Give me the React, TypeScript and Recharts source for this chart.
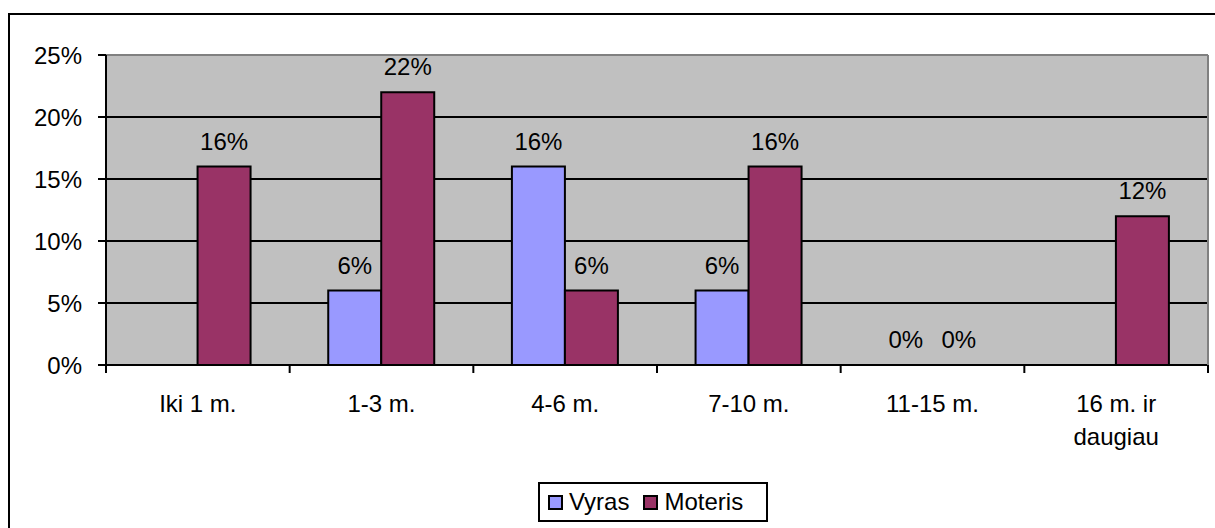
import React from 'react';
import {
  BarChart,
  Bar,
  XAxis,
  YAxis,
  CartesianGrid,
  LabelList,
  Legend,
  ReferenceLine,
} from 'recharts';

const categories = ['Iki 1 m.', '1-3 m.', '4-6 m.', '7-10 m.', '11-15 m.', '16 m. ir\ndaugiau'];
const vyras: (number | null)[] = [null, 6, 16, 6, 0, null];
const moteris: (number | null)[] = [16, 22, 6, 16, 0, 12];
const yTicks = [0, 5, 10, 15, 20, 25];
const seriesNames = ['Vyras', 'Moteris'];
const seriesColors = ['#9999FF', '#993366'];

const data = categories.map((name, i) => ({
  name,
  Vyras: vyras[i],
  Moteris: moteris[i],
}));

const FONT = '"Liberation Sans", Arial, sans-serif';

// Excel puts the category ticks between the groups, so draw them ourselves
const CategoryTick = (props: any) => {
  const { x, y, payload, index } = props;
  const half = payload && payload.offset ? payload.offset : 1102 / categories.length / 2;
  const lines = String(payload.value).split('\n');
  return (
    <g>
      <line x1={x - half} x2={x - half} y1={y} y2={y + 8} stroke="#000" strokeWidth={2} />
      {index === categories.length - 1 && (
        <line x1={x + half} x2={x + half} y1={y} y2={y + 8} stroke="#000" strokeWidth={2} />
      )}
      <text x={x} y={y + 47} textAnchor="middle" fill="#000" fontSize={24} fontFamily={FONT}>
        {lines.map((l, i) => (
          <tspan key={i} x={x} dy={i === 0 ? 0 : 33}>
            {l}
          </tspan>
        ))}
      </text>
    </g>
  );
};

const renderLegend = () => (
  <div
    style={{
      boxSizing: 'border-box',
      width: 230,
      height: 40,
      border: '2px solid #000',
      background: '#fff',
      display: 'flex',
      alignItems: 'center',
      paddingLeft: 8,
      fontFamily: FONT,
      fontSize: 24,
      color: '#000',
    }}
  >
    {seriesNames.map((name, i) => (
      <div key={name} style={{ display: 'flex', alignItems: 'center', marginRight: 14 }}>
        <span
          style={{
            display: 'inline-block',
            boxSizing: 'border-box',
            width: 15,
            height: 15,
            border: '2px solid #000',
            background: seriesColors[i],
            marginRight: 6,
          }}
        />
        <span>{name}</span>
      </div>
    ))}
  </div>
);

const pct = (v: any) => (v === null || v === undefined ? '' : `${v}%`);

// draw the label ourselves so zero values still get one
const renderValue = (props: any) => {
  const { x, y, width, value } = props;
  if (value === null || value === undefined) return null;
  return (
    <text
      x={Number(x) + Number(width) / 2}
      y={Number(y) - 17}
      textAnchor="middle"
      fill="#000"
      fontSize={24}
      fontFamily={FONT}
    >
      {pct(value)}
    </text>
  );
};

const App: React.FC = () => {
  return (
    <div style={{ position: 'absolute', left: 0, top: 0, width: 1215, height: 528, background: '#fff' }}>
      <div
        style={{
          position: 'absolute',
          left: 8,
          top: 13,
          width: 1215,
          height: 528,
          borderLeft: '2px solid #000',
          borderTop: '2px solid #000',
        }}
      />
      <BarChart
        width={1215}
        height={528}
        data={data}
        margin={{ top: 55, right: 0, bottom: 0, left: 0 }}
        barCategoryGap="21%"
        barGap={0}
        style={{ position: 'absolute', left: 0, top: 0 }}
      >
        <CartesianGrid
          vertical={false}
          stroke="#000"
          strokeWidth={2}
          fill="#C0C0C0"
          fillOpacity={1}
        />
        <ReferenceLine y={25} stroke="#808080" strokeWidth={2} />
        <XAxis
          dataKey="name"
          height={163}
          axisLine={{ stroke: '#000', strokeWidth: 2 }}
          tickLine={false}
          tickSize={0}
          tickMargin={0}
          interval={0}
          tick={<CategoryTick />}
        />
        <YAxis
          width={106}
          domain={[0, 25]}
          ticks={yTicks}
          tickFormatter={(v: number) => `${v}%`}
          axisLine={{ stroke: '#000', strokeWidth: 2 }}
          tickLine={{ stroke: '#000', strokeWidth: 2 }}
          tickSize={8}
          tickMargin={16}
          tick={{ fill: '#000', fontSize: 24, fontFamily: FONT }}
          allowDataOverflow
        />
        <YAxis
          yAxisId="frame"
          orientation="right"
          width={7}
          tick={false}
          tickLine={false}
          axisLine={{ stroke: '#808080', strokeWidth: 2 }}
        />
        <Legend
          layout="horizontal"
          verticalAlign="middle"
          align="center"
          content={renderLegend}
          wrapperStyle={{ left: 538, top: 482, width: 230, height: 40 }}
        />
        <Bar
          dataKey="Vyras"
          fill={seriesColors[0]}
          stroke="#000"
          strokeWidth={2}
          minPointSize={0.01}
          isAnimationActive={false}
        >
          <LabelList dataKey="Vyras" content={renderValue} />
        </Bar>
        <Bar
          dataKey="Moteris"
          fill={seriesColors[1]}
          stroke="#000"
          strokeWidth={2}
          minPointSize={0.01}
          isAnimationActive={false}
        >
          <LabelList dataKey="Moteris" content={renderValue} />
        </Bar>
      </BarChart>
    </div>
  );
};

export default App;
